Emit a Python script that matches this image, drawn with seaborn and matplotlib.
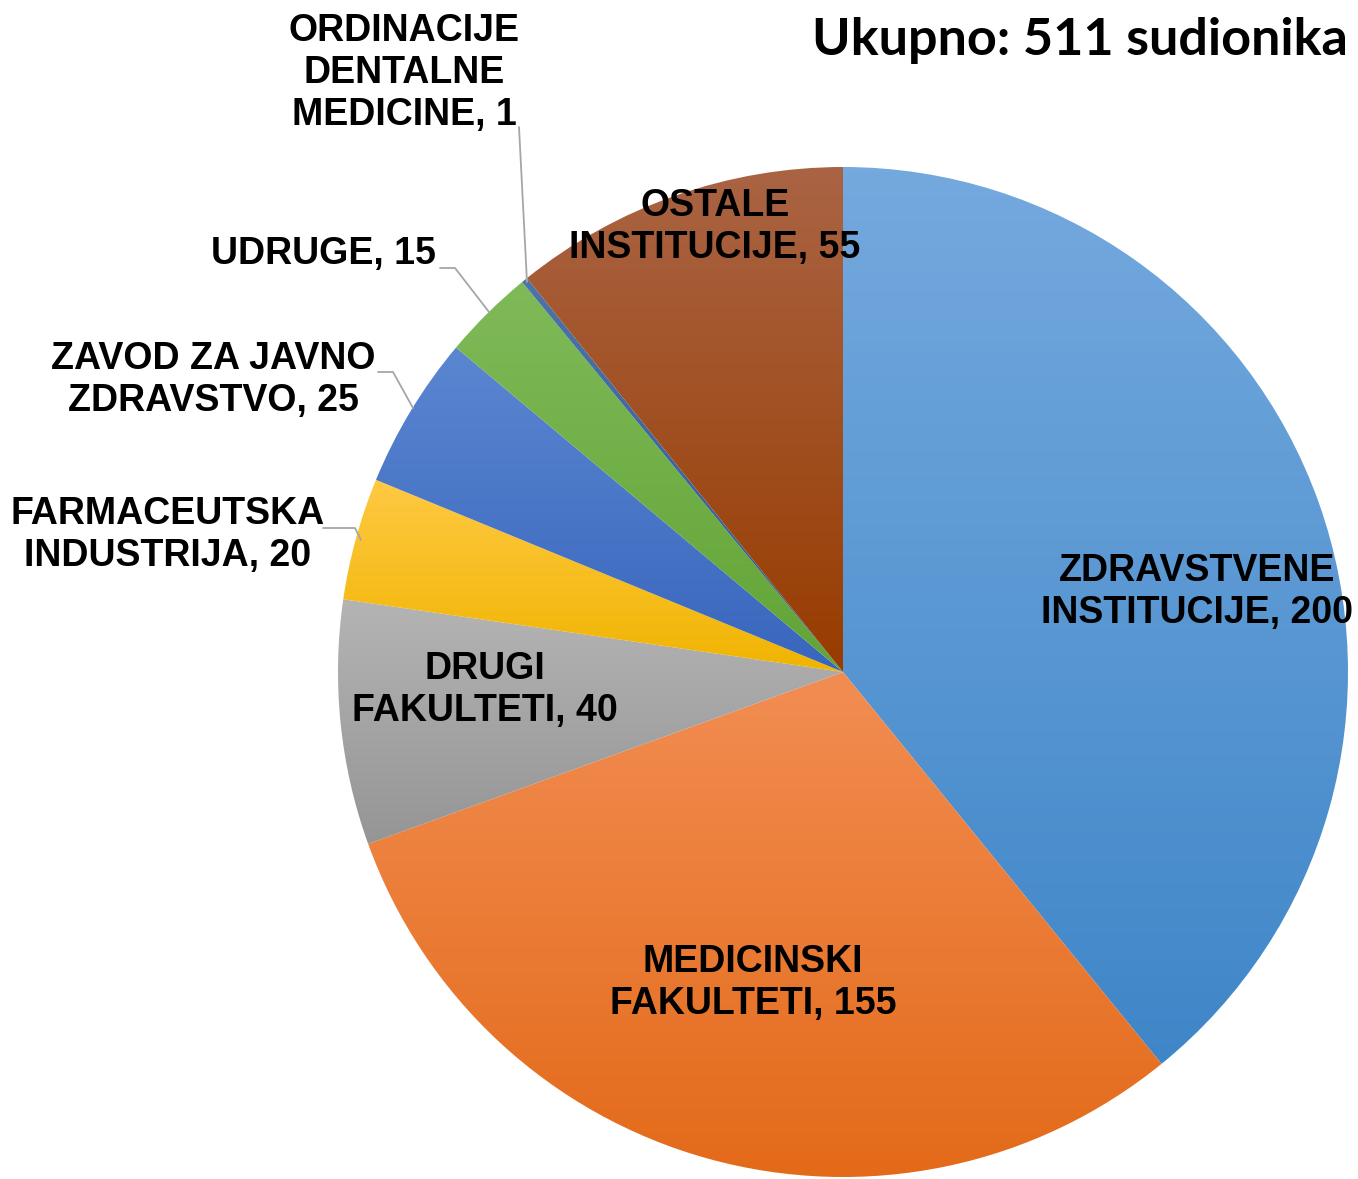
import numpy as np
import matplotlib
matplotlib.use("Agg")
import matplotlib.pyplot as plt
import seaborn as sns
from matplotlib.colors import LinearSegmentedColormap

sns.set_theme(style="white")
plt.rcParams['font.family'] = ['Liberation Sans', 'DejaVu Sans']

# data (clockwise from 12 o'clock)
categories = ["ZDRAVSTVENE\nINSTITUCIJE", "MEDICINSKI\nFAKULTETI", "DRUGI\nFAKULTETI",
              "FARMACEUTSKA\nINDUSTRIJA", "ZAVOD ZA JAVNO\nZDRAVSTVO", "UDRUGE",
              "ORDINACIJE\nDENTALNE\nMEDICINE", "OSTALE\nINSTITUCIJE"]
counts = [200, 155, 40, 20, 25, 15, 1, 55]
title = "Ukupno: 511 sudionika"

# gradient colours: (top, bottom)
grads = [("#74a9de", "#3f86c8"), ("#f28d52", "#e36a19"), ("#b4b4b4", "#959595"),
         ("#ffc943", "#f0b400"), ("#5b86d1", "#3866bd"), ("#7fba58", "#62a436"),
         ("#4d74a8", "#2a5a92"), ("#aa6444", "#983c00")]

W, H = 1358, 1179
cx, cy, R = 843, 672, 505

fig = plt.figure(figsize=(W / 100, H / 100), dpi=100)
ax = fig.add_axes([0, 0, 1, 1])

wedges, _ = ax.pie(counts, startangle=90, counterclock=False, radius=1,
                   wedgeprops=dict(linewidth=0), center=(0, 0), frame=True)

# vertical gradient fill in each slice
for w, (top, bot) in zip(wedges, grads):
    ext = w.get_path().get_extents()
    cmap = LinearSegmentedColormap.from_list("g", [bot, top])
    grad = np.linspace(0, 1, 256).reshape(-1, 1)
    im = ax.imshow(grad, cmap=cmap, origin='lower', aspect='auto',
                   extent=[ext.x0, ext.x1, ext.y0, ext.y1], zorder=1.5,
                   interpolation='bilinear')
    im.set_clip_path(w)
    w.set_facecolor('none')

ax.set_xlim(-cx / R, (W - cx) / R)
ax.set_ylim(-(H - cy) / R, cy / R)
ax.set_aspect('equal')
ax.axis('off')


def px(x, y):
    return (x - cx) / R, (cy - y) / R


# label positions in pixel coords (centre of text block)
label_pos = [(1197, 592), (753, 983), (485, 690), (168, 535), (213, 380),
             (323, 254), (404, 73), (715, 227)]
for cat, n, (x, y) in zip(categories, counts, label_pos):
    ax.text(*px(x, y), f"{cat}, {n}", ha='center', va='center', fontsize=27,
            fontweight='bold', color='black', linespacing=1.23, zorder=5)

# leader lines
leaders = [
    [(323, 528), (355, 528), (361, 540)],
    [(378, 372), (393, 372), (413, 408)],
    [(440, 268), (455, 268), (489, 312)],
    [(519, 127), (527, 282)],
]
for pts in leaders:
    xs, ys = zip(*[px(x, y) for x, y in pts])
    ax.plot(xs, ys, color='#a6a6a6', lw=1.3, zorder=4)

ax.text(*px(1348, 40), title, ha='right', va='center', fontsize=37.5,
        fontweight='bold', family=['Lato', 'DejaVu Sans'], color='black')

fig.savefig('out.png', dpi=100)
